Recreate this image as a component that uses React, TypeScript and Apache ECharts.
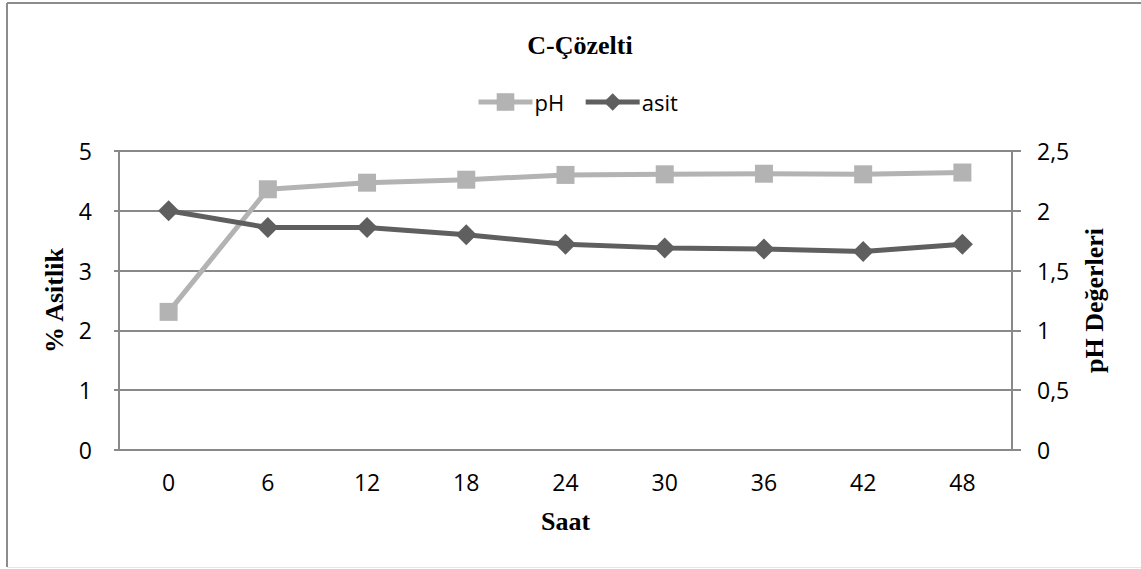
import React, { useEffect, useRef } from "react";
import * as echarts from "echarts";

const hours = ["0", "6", "12", "18", "24", "30", "36", "42", "48"];
const phValues = [2.31, 4.36, 4.47, 4.52, 4.6, 4.61, 4.62, 4.61, 4.64];
const asitValues = [2.0, 1.86, 1.86, 1.8, 1.72, 1.69, 1.68, 1.66, 1.72];
const seriesNames = ["pH", "asit"];
const titleText = "C-Çözelti";
const xName = "Saat";
const leftName = "% Asitlik";
const rightName = "pH Değerleri";

const SANS = "'Open Sans', 'Noto Sans', sans-serif";
const SERIF = "'Liberation Serif', 'DejaVu Serif', serif";
const GRID_COLOR = "#898989";

export default function App() {
  const ref = useRef<HTMLDivElement>(null);
  useEffect(() => {
    if (!ref.current) return;
    const chart = echarts.init(ref.current, null, { renderer: "svg" });
    chart.setOption({
      animation: false,
      backgroundColor: "#ffffff",
      title: {
        text: titleText,
        left: 575,
        textAlign: "center",
        top: 27,
        textStyle: { fontFamily: SERIF, fontWeight: "bold", fontSize: 26, color: "#000" },
      },
      legend: {
        data: seriesNames,
        left: 471,
        top: 86,
        itemWidth: 54,
        itemHeight: 22,
        itemGap: 19,
        lineStyle: { width: 5 },
        textStyle: { fontFamily: SANS, fontSize: 22, color: "#000", padding: [0, 0, 0, -3] },
      },
      grid: { left: 119, right: 129, top: 151, bottom: 119, containLabel: false },
      xAxis: {
        type: "category",
        data: hours,
        boundaryGap: true,
        name: xName,
        nameLocation: "middle",
        nameGap: 58,
        nameTextStyle: { fontFamily: SERIF, fontWeight: "bold", fontSize: 26, color: "#000" },
        axisLine: { show: true, lineStyle: { color: GRID_COLOR, width: 2 } },
        axisTick: { show: false },
        axisLabel: { margin: 20, fontFamily: SANS, fontSize: 23, color: "#000" },
        splitLine: { show: false },
      },
      yAxis: [
        {
          type: "value",
          min: 0,
          max: 5,
          interval: 1,
          position: "left",
          name: leftName,
          nameLocation: "middle",
          nameGap: 46,
          nameRotate: 90,
          nameTextStyle: { fontFamily: SERIF, fontWeight: "bold", fontSize: 26, color: "#000" },
          axisLine: { show: true, lineStyle: { color: GRID_COLOR, width: 2 } },
          axisTick: { show: true, length: 5, lineStyle: { color: GRID_COLOR, width: 2 } },
          axisLabel: { margin: 27, fontFamily: SANS, fontSize: 23, color: "#000" },
          splitLine: { show: true, lineStyle: { color: GRID_COLOR, width: 2 } },
        },
        {
          type: "value",
          min: 0,
          max: 2.5,
          interval: 0.5,
          position: "right",
          name: rightName,
          nameLocation: "middle",
          nameGap: 69,
          nameRotate: 90,
          nameTextStyle: { fontFamily: SERIF, fontWeight: "bold", fontSize: 26, color: "#000" },
          axisLine: { show: true, lineStyle: { color: GRID_COLOR, width: 2 } },
          axisTick: { show: true, length: 9, lineStyle: { color: GRID_COLOR, width: 2 } },
          axisLabel: {
            margin: 25,
            fontFamily: SANS,
            fontSize: 23,
            color: "#000",
            formatter: (v: number) => String(v).replace(".", ","),
          },
          splitLine: { show: false },
        },
      ],
      series: [
        {
          name: seriesNames[0],
          type: "line",
          yAxisIndex: 0,
          data: phValues,
          symbol: "rect",
          symbolSize: 18,
          showAllSymbol: true,
          color: "#b3b3b3",
          lineStyle: { color: "#b3b3b3", width: 5 },
          itemStyle: { color: "#b3b3b3" },
          z: 2,
        },
        {
          name: seriesNames[1],
          type: "line",
          yAxisIndex: 1,
          data: asitValues,
          symbol: "diamond",
          symbolSize: 21,
          showAllSymbol: true,
          color: "#5f5f5f",
          lineStyle: { color: "#5f5f5f", width: 5 },
          itemStyle: { color: "#5f5f5f" },
          z: 3,
        },
      ],
      graphic: [
        { type: "line", shape: { x1: 7, y1: 3, x2: 1141, y2: 3 }, style: { stroke: "#8c8c8c", lineWidth: 2 } },
        { type: "line", shape: { x1: 7, y1: 3, x2: 7, y2: 567 }, style: { stroke: "#8c8c8c", lineWidth: 2 } },
        { type: "line", shape: { x1: 7, y1: 567.5, x2: 1141, y2: 567.5 }, style: { stroke: "#e6e6e6", lineWidth: 1 } },
      ],
    });
    return () => chart.dispose();
  }, []);
  return (
    <div
      ref={ref}
      style={{ position: "fixed", left: 0, top: 0, width: 1141, height: 569, background: "#fff" }}
    />
  );
}
